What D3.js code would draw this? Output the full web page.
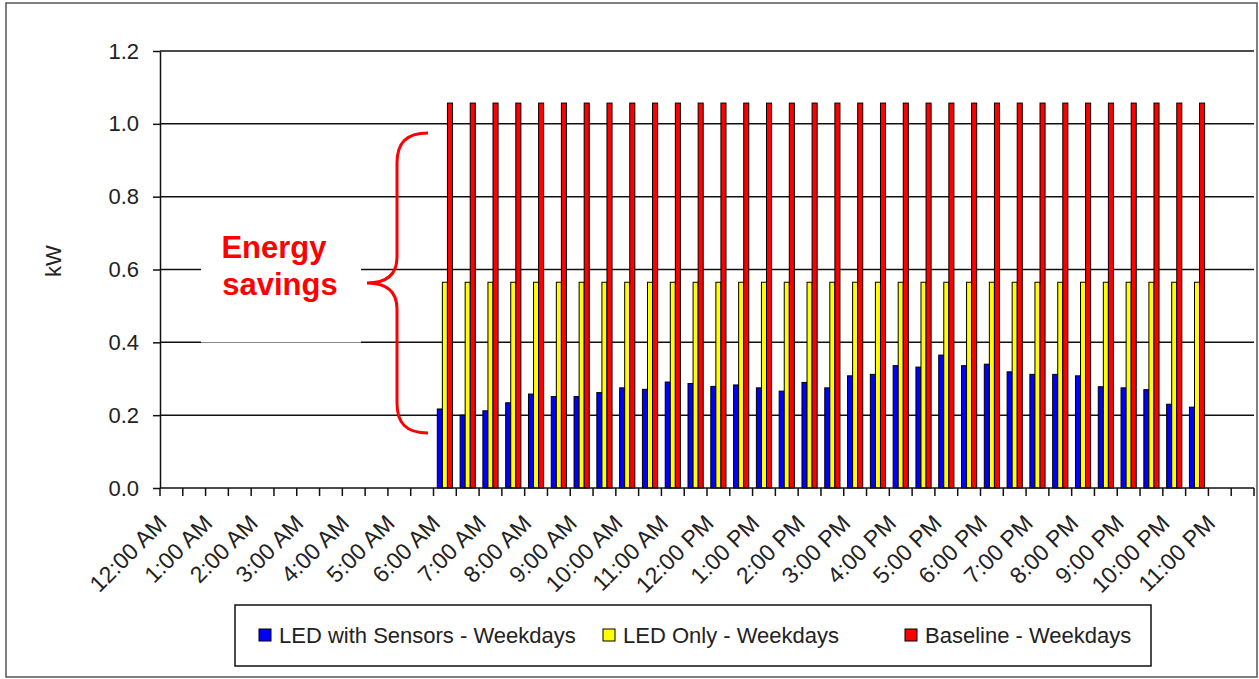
<!DOCTYPE html>
<html lang="en">
<head>
    <meta charset="UTF-8">
    <title>LED lighting energy savings - weekdays</title>
    <script src="https://cdn.jsdelivr.net/npm/d3@7"></script>
    <style>
        body { margin: 0; background: #fff; }
        text { font-family: "Liberation Sans", Arial, sans-serif; }
    </style>
</head>
<body>
    <script>
    // half-hour slots on the category axis
    var slots = [
        "12:00 AM", "12:30 AM", "1:00 AM", "1:30 AM", "2:00 AM", "2:30 AM",
        "3:00 AM", "3:30 AM", "4:00 AM", "4:30 AM", "5:00 AM", "5:30 AM",
        "6:00 AM", "6:30 AM", "7:00 AM", "7:30 AM", "8:00 AM", "8:30 AM",
        "9:00 AM", "9:30 AM", "10:00 AM", "10:30 AM", "11:00 AM", "11:30 AM",
        "12:00 PM", "12:30 PM", "1:00 PM", "1:30 PM", "2:00 PM", "2:30 PM",
        "3:00 PM", "3:30 PM", "4:00 PM", "4:30 PM", "5:00 PM", "5:30 PM",
        "6:00 PM", "6:30 PM", "7:00 PM", "7:30 PM", "8:00 PM", "8:30 PM",
        "9:00 PM", "9:30 PM", "10:00 PM", "10:30 PM", "11:00 PM", "11:30 PM"
    ];
    // only the full hours get a label
    var hourLabels = [
        "12:00 AM", "1:00 AM", "2:00 AM", "3:00 AM", "4:00 AM", "5:00 AM",
        "6:00 AM", "7:00 AM", "8:00 AM", "9:00 AM", "10:00 AM", "11:00 AM",
        "12:00 PM", "1:00 PM", "2:00 PM", "3:00 PM", "4:00 PM", "5:00 PM",
        "6:00 PM", "7:00 PM", "8:00 PM", "9:00 PM", "10:00 PM", "11:00 PM"
    ];

    // slots with load: 6:00 AM .. 10:30 PM
    var firstSlot = "6:00 AM";
    var sensors = [0.217, 0.200, 0.212, 0.234, 0.258, 0.251, 0.251, 0.262, 0.275, 0.271,
                   0.291, 0.287, 0.279, 0.283, 0.275, 0.266, 0.290, 0.275, 0.308, 0.312,
                   0.336, 0.332, 0.365, 0.336, 0.340, 0.319, 0.312, 0.312, 0.308, 0.278,
                   0.275, 0.270, 0.230, 0.222];
    var ledOnly = [0.565, 0.565, 0.565, 0.565, 0.565, 0.565, 0.565, 0.565, 0.565, 0.565,
                   0.565, 0.565, 0.565, 0.565, 0.565, 0.565, 0.565, 0.565, 0.565, 0.565,
                   0.565, 0.565, 0.565, 0.565, 0.565, 0.565, 0.565, 0.565, 0.565, 0.565,
                   0.565, 0.565, 0.565, 0.565];
    var baseline = [1.057, 1.057, 1.057, 1.057, 1.057, 1.057, 1.057, 1.057, 1.057, 1.057,
                    1.057, 1.057, 1.057, 1.057, 1.057, 1.057, 1.057, 1.057, 1.057, 1.057,
                    1.057, 1.057, 1.057, 1.057, 1.057, 1.057, 1.057, 1.057, 1.057, 1.057,
                    1.057, 1.057, 1.057, 1.057];

    var seriesNames = ["LED with Sensors - Weekdays", "LED Only - Weekdays", "Baseline - Weekdays"];
    var seriesColors = ["#0000ff", "#ffff00", "#ff0000"];
    var yTicks = [0, 0.2, 0.4, 0.6, 0.8, 1.0, 1.2];

    var width = 1259, height = 679;
    var plotLeft = 160, plotRight = 1254, plotTop = 51, plotBottom = 488;

    var svg = d3.select("body").append("svg")
        .attr("width", width).attr("height", height);

    // outer chart border
    svg.append("rect")
        .attr("x", 6).attr("y", 3)
        .attr("width", 1251).attr("height", 674)
        .attr("fill", "#fff").attr("stroke", "#555").attr("stroke-width", 1.5);

    var x = d3.scaleBand().domain(slots).range([plotLeft, plotRight]);
    var bw = x.bandwidth();
    // gap width 50% -> the group fills 2/3 of the slot
    var x1 = d3.scaleBand().domain([0, 1, 2]).range([bw / 6, bw * 5 / 6]);
    var y = d3.scaleLinear().domain([0, 1.2]).range([plotBottom, plotTop]);

    // gridlines
    svg.append("g").selectAll("line")
        .data(yTicks.slice(1))
        .enter().append("line")
        .attr("x1", plotLeft).attr("x2", plotRight)
        .attr("y1", function(d) { return y(d); })
        .attr("y2", function(d) { return y(d); })
        .attr("stroke", "#111").attr("stroke-width", 1.5);

    // y axis
    var yAxis = svg.append("g")
        .attr("transform", "translate(" + plotLeft + ",0)")
        .call(d3.axisLeft(y).tickValues(yTicks).tickFormat(d3.format(".1f"))
            .tickSizeInner(7).tickSizeOuter(0).tickPadding(14));
    yAxis.select(".domain").attr("stroke", "#111").attr("stroke-width", 1.5);
    yAxis.selectAll(".tick line").attr("stroke", "#111").attr("stroke-width", 1.5);
    yAxis.selectAll(".tick text")
        .attr("font-size", 22).attr("fill", "#222")
        .style("font-family", "'Liberation Sans', Arial, sans-serif");

    // bars
    var start = slots.indexOf(firstSlot);
    var rows = sensors.map(function(v, i) {
        return { slot: slots[start + i], values: [v, ledOnly[i], baseline[i]] };
    });

    var groups = svg.append("g").selectAll("g")
        .data(rows)
        .enter().append("g")
        .attr("transform", function(d) { return "translate(" + x(d.slot) + ",0)"; });

    groups.selectAll("rect")
        .data(function(d) { return d.values; })
        .enter().append("rect")
        .attr("x", function(d, i) { return x1(i); })
        .attr("width", x1.bandwidth())
        .attr("y", function(d) { return y(d); })
        .attr("height", function(d) { return y(0) - y(d); })
        .attr("fill", function(d, i) { return seriesColors[i]; })
        .attr("stroke", "#000").attr("stroke-width", 1);

    // x axis: ticks between every slot
    var xAxisG = svg.append("g");
    xAxisG.append("line")
        .attr("x1", plotLeft).attr("x2", plotRight)
        .attr("y1", plotBottom).attr("y2", plotBottom)
        .attr("stroke", "#111").attr("stroke-width", 1.5);
    xAxisG.selectAll(".tk")
        .data(slots.concat(["end"]))
        .enter().append("line")
        .attr("class", "tk")
        .attr("x1", function(d) { return d === "end" ? plotRight : x(d); })
        .attr("x2", function(d) { return d === "end" ? plotRight : x(d); })
        .attr("y1", plotBottom).attr("y2", plotBottom + 8)
        .attr("stroke", "#111").attr("stroke-width", 1.5);
    xAxisG.selectAll(".lbl")
        .data(hourLabels)
        .enter().append("text")
        .attr("class", "lbl")
        .attr("transform", function(d) {
            return "translate(" + (x(d) + bw / 2 - 9) + "," + 519 + ") rotate(-45)";
        })
        .attr("text-anchor", "end")
        .attr("dy", "0.35em")
        .attr("font-size", 23)
        .attr("fill", "#222")
        .text(function(d) { return d; });

    // y axis title
    svg.append("text")
        .attr("transform", "translate(53,261) rotate(-90)")
        .attr("text-anchor", "middle")
        .attr("dy", "0.35em")
        .attr("font-size", 22)
        .attr("fill", "#222")
        .text("kW");

    // annotation: white box with text, and a brace
    svg.append("rect")
        .attr("x", 201).attr("y", 215)
        .attr("width", 160).attr("height", 127.5)
        .attr("fill", "#fff");
    svg.append("text")
        .attr("x", 274).attr("y", 258)
        .attr("text-anchor", "middle")
        .attr("font-size", 31).attr("font-weight", "bold")
        .attr("fill", "#ff0000")
        .text("Energy");
    svg.append("text")
        .attr("x", 280).attr("y", 295)
        .attr("text-anchor", "middle")
        .attr("font-size", 31).attr("font-weight", "bold")
        .attr("fill", "#ff0000")
        .text("savings");
    svg.append("path")
        .attr("d", "M428,133 C406,133 397,143 397,163 L397,257 C397,275 386,283 367,283 "
            + "C386,283 397,291 397,309 L397,403 C397,423 406,433 428,433")
        .attr("fill", "none")
        .attr("stroke", "#ff0000")
        .attr("stroke-width", 3);

    // legend
    var legend = svg.append("g");
    legend.append("rect")
        .attr("x", 235).attr("y", 605)
        .attr("width", 916).attr("height", 61)
        .attr("fill", "#fff").attr("stroke", "#111").attr("stroke-width", 1.5);
    var legendX = [259, 603, 905];
    var items = legend.selectAll(".item")
        .data(seriesNames)
        .enter().append("g")
        .attr("class", "item")
        .attr("transform", function(d, i) { return "translate(" + legendX[i] + ",635)"; });
    items.append("rect")
        .attr("x", 0).attr("y", -6)
        .attr("width", 12).attr("height", 12)
        .attr("fill", function(d, i) { return seriesColors[i]; })
        .attr("stroke", "#000").attr("stroke-width", 1);
    items.append("text")
        .attr("x", 20).attr("dy", "0.35em")
        .attr("font-size", 22)
        .attr("fill", "#222")
        .text(function(d) { return d; });
    </script>
</body>
</html>
